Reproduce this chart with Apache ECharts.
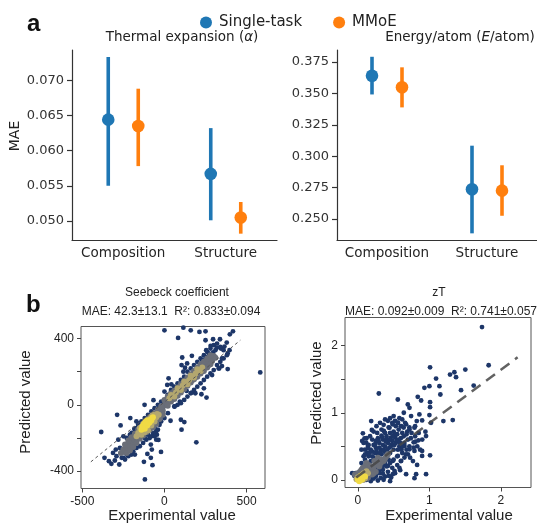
<!DOCTYPE html>
<html>
<head>
<meta charset="utf-8">
<script src="https://cdn.jsdelivr.net/npm/echarts@6/dist/echarts.min.js"></script>
<style>html,body{margin:0;padding:0;background:#fff}#chart{width:537px;height:523px}</style>
</head>
<body>
<div id="chart"></div>
<script>
// panel a: [category, mean MAE, low, high]
var categories = ['Composition', 'Structure'];
var thermalSingle = [[0, 0.0644, 0.0550, 0.0733], [1, 0.0567, 0.0501, 0.0632]];
var thermalMMoE = [[0, 0.0635, 0.0578, 0.0688], [1, 0.0505, 0.0482, 0.0527]];
var energySingle = [[0, 0.3641, 0.3492, 0.3792], [1, 0.2737, 0.2386, 0.3084]];
var energyMMoE = [[0, 0.3549, 0.3389, 0.3708], [1, 0.2726, 0.2526, 0.2928]];
var thermalTicks = [0.050, 0.055, 0.060, 0.065, 0.070];
var energyTicks = [0.250, 0.275, 0.300, 0.325, 0.350, 0.375];

// panel b: Seebeck coefficient, points grouped by local density
var seebeckSparse = [
    [0,450],[115,466],[160,450],[213,440],[250,444],[83,404],[417,444],[398,426],[338,396],[296,396],
    [250,390],[379,376],[365,352],[344,340],[319,344],[281,356],[296,316],[385,310],[396,330],[254,330],
    [308,284],[350,234],[385,216],[333,220],[583,196],[108,286],[167,296],[138,250],[104,240],[125,224],
    [115,200],[25,160],[42,124],[17,120],[0,80],[104,110],[135,84],[167,74],[225,64],[256,44],
    [188,70],[240,100],[62,50],[94,20],[-67,28],[-121,0],[-10,-24],[62,-10],[21,-50],[0,-80],
    [37,-96],[100,-90],[121,-104],[104,-150],[194,-226],[-288,-60],[-208,-80],[-267,-124],[-385,-164],[-171,-100],
    [-183,-144],[-46,-180],[-37,-212],[-83,-240],[-77,-270],[-83,-320],[-125,-344],[-73,-364],[-119,-450],[-21,-284],
    [-104,-296],[-365,-320],[-323,-356],[-302,-336],[-275,-360],[-292,-310],[-313,-290],[-271,-260],[-281,-210],[-250,-190],
    [-261,-290],[-338,-340],[-229,-240],[-188,-244],[-250,-320],[-296,-270],
    [60,110],[40,90],[20,60],[80,130],[100,150],[120,170],[140,200],[160,220],[180,240],[200,260],
    [220,280],[240,300],[260,320],[280,340],[300,360],[320,370],[340,350],[360,330],[380,300],[360,280],
    [340,260],[320,240],[300,210],[280,190],[260,170],[240,150],[220,130],[200,110],[180,90],[160,70],
    [140,50],[120,30],[100,10],[80,0],[60,-10],[350,280],[330,220],[290,180],[310,330],[270,310],
    [250,290],[230,270],
    [-60,-140],[-50,-160],[-70,-170],[-80,-190],[-90,-200],[-100,-180],[-110,-210],[-60,-190],[-50,-210],[-40,-150],
    [-30,-120],[-20,-100],[-30,-90],[-120,-200],[-130,-230],[-150,-250],[-170,-260],[-190,-280],[-200,-300],[-180,-300],
    [-220,-310],[-230,-300],[-260,-320],[-240,-330],[-200,-170],[-210,-180],[-230,-200],[-180,-150],[-160,-120],[-150,-110],
    [-140,-100],[-170,-140],[-120,-80],[-100,-60],[-80,-40],[-60,-20],[-40,0],[-20,20]
];
var seebeckMid = [
    [-265,-290],[-250,-270],[-240,-285],[-235,-250],[-225,-260],[-220,-235],[-210,-250],[-205,-225],[-200,-240],[-195,-210],
    [-190,-225],[-185,-195],[-180,-215],[-175,-185],[-170,-200],[-165,-175],[-160,-195],[-150,-165],[-145,-185],[-140,-150],
    [-130,-170],[-125,-140],[-115,-160],[-110,-125],[-100,-145],[-95,-110],[-85,-130],[-80,-95],[-70,-115],[-65,-80],
    [-55,-95],[-50,-60],[-40,-75],[-35,-45],[-25,-55],[-20,-25],[-10,-35],[-5,-5],[5,10],[15,5],
    [20,30],[30,20],[40,50],[50,40],[60,70],[70,55],[80,90],[90,75],[100,110],[110,95],
    [120,130],[130,115],[140,150],[150,135],[160,170],[170,150],[180,190],[190,170],[200,205],[210,190],
    [220,225],[230,205],[240,240],[250,225],[260,260],[270,240],[280,275],[290,265],[300,295],[310,285],
    [0,30],[20,50],[40,70],[60,85],[80,105],[100,125],[120,145],[140,165],[160,185],[180,205],
    [200,225],[220,245],[240,260],[260,280],[280,300],
    [20,-5],[40,20],[60,35],[80,55],[100,75],[120,95],[140,115],[160,135],[180,155],[200,170],
    [220,190],[240,205],[260,225],[280,245],
    [-240,-240],[-220,-215],[-200,-195],[-180,-175],[-160,-150],[-140,-130],[-120,-105],[-100,-85],[-80,-70],[-60,-50],
    [-40,-30],[-20,-10],
    [-230,-290],[-210,-275],[-190,-255],[-170,-230],[-150,-205],[-130,-185],[-110,-165],[-90,-150],[-70,-135],[-50,-115],
    [-30,-85],[-10,-60]
];
var seebeckDense = [
    [-170,-190],[-160,-170],[-150,-175],[-140,-160],[-135,-145],[-125,-150],[-120,-130],[-110,-135],[-105,-115],[-95,-120],
    [-90,-100],[-80,-105],[-75,-85],[-65,-90],[-60,-70],[-50,-75],[-45,-55],[-35,-60],
    [-150,-140],[-130,-115],[-115,-100],[-100,-90],[-85,-75],[-70,-60],[-140,-180],[-120,-165],[-100,-155],[-80,-125],
    [-60,-100],
    [30,40],[50,55],[70,75],[90,95],[110,115],[130,135],[150,150],[170,170],[190,190],[210,210],
    [230,225],[40,60],[60,50],[80,100],[100,90],[120,140],[140,125],[160,175],[180,165],[200,215],
    [220,205]
];
var seebeckPeak = [
    [-140,-150],[-130,-140],[-120,-125],[-110,-115],[-100,-105],[-95,-95],[-85,-90],[-75,-80],[-120,-145],[-105,-125],
    [-90,-105],[-115,-100],[-105,-95],[-125,-115],[-135,-130],[-95,-110],[-80,-95],[-70,-75]
];
var seebeckFit = [[-448,-344], [462,390]];

// panel b: zT
var ztSparse = [
    [1.735,2.277],[1.828,1.708],[1.009,1.678],[1.502,1.644],[1.288,1.569],[1.349,1.604],[1.372,1.530],[1.093,1.510],[0.293,1.287],[0.930,1.371],
    [1.0,1.396],[1.140,1.396],[1.153,1.272],[1.442,1.337],[1.619,1.406],[0.837,1.238],[0.884,1.183],[0.558,1.198],[0.698,1.124],[0.721,1.074],
    [1.009,1.158],[1.009,1.084],[0.642,1.0],[0.744,0.950],[0.860,0.975],[1.0,0.965],[1.195,0.876],[1.326,0.891],[0.898,0.886],[0.823,0.876],
    [1.023,0.851],[0.186,0.876],[0.195,0.743],[0.070,0.693],[0.093,0.619],[0.060,0.579],[0.116,0.554],[0.140,0.505],[0.363,0.728],[0.442,0.777],
    [0.488,0.827],[0.558,0.851],[0.605,0.802],[0.674,0.827],[0.721,0.752],[0.791,0.777],[0.944,0.718],[0.953,0.653],[0.847,0.589],[0.805,0.569],
    [0.651,0.505],[0.721,0.455],[0.791,0.431],[0.898,0.431],[1.009,0.366],[0.898,0.356],[0.828,0.223],[0.953,0.084],[0.814,0.084],[0.791,0.025],
    [0.674,0.084],[0.591,0.144],[0.512,0.134],[0.465,0.035],[0.488,0.084],[0.433,0.059],[0.349,0.094],[0.651,0.332],[0.605,0.282],[0.558,0.356],
    [0.488,0.282],[0.419,0.208],[0.349,0.208],[0.302,0.134],[0.256,0.084],[0.209,0.035],
    [0.10,0.30],[0.15,0.35],[0.20,0.42],[0.25,0.48],[0.30,0.55],[0.35,0.60],[0.40,0.65],[0.45,0.70],[0.50,0.72],[0.55,0.68],
    [0.60,0.62],[0.62,0.70],[0.65,0.55],[0.58,0.50],[0.50,0.45],[0.45,0.40],[0.40,0.35],[0.35,0.30],[0.30,0.25],[0.25,0.20],
    [0.20,0.15],[0.15,0.10],[0.12,0.22],[0.18,0.28],[0.22,0.33],[0.28,0.38],[0.32,0.45],[0.38,0.50],[0.42,0.55],[0.48,0.58],
    [0.52,0.63],[0.57,0.75],[0.43,0.78],[0.38,0.70],[0.33,0.66],[0.28,0.62],[0.25,0.58],[0.22,0.52],[0.18,0.45],[0.13,0.40],
    [0.08,0.35],[0.05,0.25],[0.10,0.45],[0.15,0.52],[0.20,0.60],[0.27,0.70],[0.33,0.75],[0.48,0.85],[0.53,0.80],[0.60,0.80],
    [0.66,0.85],[0.70,0.60],[0.68,0.45],[0.62,0.40],[0.55,0.35],[0.50,0.30],[0.45,0.25],[0.40,0.20],[0.35,0.15],[0.30,0.10],
    [0.25,0.05],[0.20,0.05],[0.38,0.05],[0.42,0.12],[0.48,0.18],[0.55,0.22],[0.60,0.28],[0.72,0.50],[0.75,0.70],[0.80,0.65],
    [0.78,0.48],[0.70,0.38],[0.06,0.15],[0.03,0.08],[0.28,0.30],[0.33,0.38],[0.37,0.42],[0.44,0.48],[0.47,0.52],[0.53,0.55],
    [0.57,0.60],[0.64,0.65],[0.69,0.72],[0.72,0.78],[0.35,0.52],[0.30,0.48],[0.24,0.40],[0.20,0.35],[0.16,0.25],[0.40,0.60],
    [0.46,0.63],[0.51,0.68],[0.56,0.85],[0.62,0.90],[0.50,0.95],[0.42,0.88],[0.36,0.82],
    [0.12,0.0],[0.18,-0.02],[0.22,0.02],[0.28,-0.01],[0.32,0.03],[0.36,0.0],[0.45,-0.02],[-0.05,0.06],[-0.03,0.1],[-0.08,0.1],
    [0.05,0.45],[0.08,0.55],[0.12,0.62],[0.17,0.65],[0.22,0.72],[0.26,0.80],[0.31,0.85],[0.38,0.90],[0.45,0.92],[0.52,0.88],
    [0.58,0.92],[0.64,0.78],[0.68,0.68],[0.74,0.62],[0.78,0.56],[0.83,0.50],[0.87,0.45],[0.90,0.60],[0.85,0.70],[0.80,0.80],
    [0.14,0.47],[0.24,0.53],[0.29,0.58],[0.34,0.63],[0.39,0.57],[0.44,0.60],[0.49,0.65],[0.54,0.58],[0.59,0.55],[0.63,0.50],
    [0.67,0.38],[0.73,0.33],[0.77,0.28],[0.58,0.18],[0.52,0.10],[0.43,0.30],[0.38,0.25],[0.33,0.20],[0.27,0.15],[0.23,0.10],
    [0.17,0.05],[0.10,0.38],[0.16,0.40],[0.26,0.43],[0.31,0.40],[0.36,0.45],[0.41,0.45],[0.46,0.50],[0.51,0.52],[0.56,0.45],
    [0.61,0.45]
];
var ztMid = [
    [0.02,0.05],[0.05,0.08],[0.08,0.06],[0.10,0.12],[0.12,0.08],[0.15,0.15],[0.18,0.12],[0.20,0.20],[0.22,0.15],[0.25,0.22],
    [0.28,0.25],[0.30,0.20],[0.33,0.30],[0.36,0.28],[0.40,0.35],[0.05,0.15],[0.10,0.20],[0.15,0.22],[0.08,0.0],[0.14,0.03],
    [0.20,0.08],[0.25,0.12],[0.03,0.12],[0.07,0.18],[0.12,0.25],[0.18,0.20],[0.23,0.28],[0.28,0.33],[0.32,0.25],[0.38,0.32],
    [0.42,0.38],[0.17,0.08],[0.22,0.10],[0.12,0.15],[-0.04,0.08],[0.0,0.1]
];
var ztDense = [[0.08,0.10],[0.12,0.13],[0.0,0.04],[0.1,0.02],[-0.02,0.01],[0.06,0.08],[0.14,0.10]];
var ztPeak = [[0.00,0.0],[0.03,0.02],[0.05,0.03],[0.07,0.05],[0.02,-0.02],[0.06,0.0],[0.10,0.05],[0.04,0.06]];
var ztFit = [[-0.023,0.035], [2.233,1.827]];

var chart = echarts.init(document.getElementById('chart'));

var BLUE = '#1f77b4', ORANGE = '#ff7f0e';
var topFont = 'DejaVu Sans';
var botFont = 'Liberation Sans';

function errorBar(offset, color) {
    return function (params, api) {
        var cat = api.value(0);
        var c = api.coord([cat, api.value(1)]);
        var lo = api.coord([cat, api.value(2)]);
        var hi = api.coord([cat, api.value(3)]);
        var x = c[0] + offset;
        return {
            type: 'group',
            children: [
                {type: 'line', shape: {x1: x, y1: lo[1], x2: x, y2: hi[1]}, style: {stroke: color, lineWidth: 3.6}},
                {type: 'circle', shape: {cx: x, cy: c[1], r: 6.3}, style: {fill: color}}
            ]
        };
    };
}

function topX(i) {
    return {
        gridIndex: i, type: 'category', data: categories,
        axisLine: {lineStyle: {color: '#333', width: 1.2}},
        axisTick: {show: false},
        axisLabel: {interval: 0, margin: 6, fontSize: 13.5, fontFamily: topFont, color: '#262626'}
    };
}
function topY(i, min, max, ticks) {
    return {
        gridIndex: i, type: 'value', min: min, max: max,
        axisLine: {show: true, onZero: false, lineStyle: {color: '#333', width: 1.2}},
        axisTick: {show: true, length: 5, customValues: ticks, lineStyle: {color: '#333', width: 1.2}},
        axisLabel: {margin: 8, customValues: ticks, fontSize: 13, fontFamily: topFont, color: '#333',
            formatter: function (v) { return v.toFixed(3); }},
        splitLine: {show: false}
    };
}
function botAxis(i, min, max, ticks, labels) {
    return {
        gridIndex: i, type: 'value', min: min, max: max,
        axisLine: {show: false, onZero: false},
        axisTick: {show: true, length: 4, customValues: ticks, lineStyle: {color: '#444'}},
        axisLabel: {margin: 7, customValues: labels, fontSize: 12, fontFamily: botFont, color: '#222'},
        splitLine: {show: false}
    };
}
function dots(name, data, color, xi, size) {
    return {
        type: 'scatter', name: name, xAxisIndex: xi, yAxisIndex: xi, data: data,
        symbolSize: size, itemStyle: {color: color, opacity: 1}, silent: true
    };
}

function txt(t, x, y, size, opts) {
    opts = opts || {};
    var font = (opts.weight || 'normal') + ' ' + size + 'px "' + (opts.family || botFont) + '"';
    var style = {
        text: t, fill: opts.color || '#222', textAlign: opts.align || 'center', textVerticalAlign: 'middle', font: font
    };
    if (opts.rich) {
        style.rich = {
            n: {font: font, fill: opts.color || '#222'},
            i: {font: 'italic ' + size + 'px "' + (opts.family || botFont) + '"', fill: opts.color || '#222'}
        };
    }
    return {type: 'text', x: x, y: y, rotation: opts.rot || 0, z: 10, style: style};
}

var option = {
    animation: false,
    backgroundColor: '#fff',
    legend: {
        left: 195, top: 10, itemWidth: 16, itemHeight: 12, itemGap: 31,
        textStyle: {fontSize: 15, fontFamily: topFont, color: '#222'},
        data: [{name: 'Single-task', icon: 'circle'}, {name: 'MMoE', icon: 'circle'}]
    },
    grid: [
        {left: 72, top: 50, width: 205, height: 190},
        {left: 337, top: 50, width: 206, height: 190},
        {left: 81, top: 326.5, width: 184, height: 162, show: true, borderColor: '#555', borderWidth: 1},
        {left: 345, top: 317.5, width: 186, height: 170, show: true, borderColor: '#555', borderWidth: 1}
    ],
    xAxis: [
        topX(0), topX(1),
        botAxis(2, -508, 612, [-500, 0, 500], [-500, 0, 500]),
        botAxis(3, -0.18, 2.42, [0, 1, 2], [0, 1, 2])
    ],
    yAxis: [
        topY(0, 0.0473, 0.0743, thermalTicks),
        topY(1, 0.2333, 0.3846, energyTicks),
        botAxis(2, -505, 473, [-400, -200, 0, 200, 400], [-400, 0, 400]),
        botAxis(3, -0.114, 2.42, [0, 0.5, 1, 1.5, 2], [0, 1, 2])
    ],
    series: [
        {type: 'custom', name: 'Single-task', xAxisIndex: 0, yAxisIndex: 0, data: thermalSingle,
            itemStyle: {color: BLUE}, renderItem: errorBar(-15, BLUE)},
        {type: 'custom', name: 'MMoE', xAxisIndex: 0, yAxisIndex: 0, data: thermalMMoE,
            itemStyle: {color: ORANGE}, renderItem: errorBar(15, ORANGE)},
        {type: 'custom', name: 'Single-task', xAxisIndex: 1, yAxisIndex: 1, data: energySingle,
            itemStyle: {color: BLUE}, renderItem: errorBar(-15, BLUE)},
        {type: 'custom', name: 'MMoE', xAxisIndex: 1, yAxisIndex: 1, data: energyMMoE,
            itemStyle: {color: ORANGE}, renderItem: errorBar(15, ORANGE)},

        dots('s1', seebeckSparse, '#1d3668', 2, 4.8),
        dots('s2', seebeckMid, '#6a6e78', 2, 6),
        dots('s3', seebeckDense, '#b3a76f', 2, 6),
        dots('s4', seebeckPeak, '#f0da45', 2, 6),
        {type: 'line', xAxisIndex: 2, yAxisIndex: 2, data: seebeckFit, symbol: 'none', silent: true, z: 5,
            lineStyle: {color: '#555', width: 1, type: [3, 3]}},

        dots('z1', ztSparse, '#1d3668', 3, 4.8),
        dots('z2', ztMid, '#6a6e78', 3, 6),
        dots('z3', ztDense, '#b3a76f', 3, 6),
        dots('z4', ztPeak, '#f0da45', 3, 6),
        {type: 'line', xAxisIndex: 3, yAxisIndex: 3, data: ztFit, symbol: 'none', silent: true, z: 5,
            lineStyle: {color: 'rgba(70,70,70,0.85)', width: 2.5, type: [11, 7]}}
    ],
    graphic: [
        txt('a', 27, 24, 24, {weight: 'bold', align: 'left', color: '#111'}),
        txt('{n|Thermal expansion (}{i|\u03b1}{n|)}', 182, 37, 13.5, {family: topFont, rich: true}),
        txt('{n|Energy/atom (}{i|E}{n|/atom)}', 460, 37, 13.5, {family: topFont, rich: true}),
        txt('MAE', 15, 136, 14, {family: topFont, rot: Math.PI / 2}),
        txt('b', 26, 305, 24, {weight: 'bold', align: 'left', color: '#111'}),
        txt('Seebeck coefficient', 177, 293, 12),
        txt('MAE: 42.3\u00b113.1  R\u00b2: 0.833\u00b10.094', 171, 311.5, 12),
        txt('zT', 439, 293, 12),
        txt('MAE: 0.092\u00b10.009  R\u00b2: 0.741\u00b10.057', 441, 311.5, 12),
        txt('Predicted value', 26, 402, 15, {rot: Math.PI / 2}),
        txt('Experimental value', 172, 516, 15),
        txt('Predicted value', 317, 393, 15, {rot: Math.PI / 2}),
        txt('Experimental value', 449, 516, 15)
    ]
};
chart.setOption(option);
</script>
</body>
</html>
